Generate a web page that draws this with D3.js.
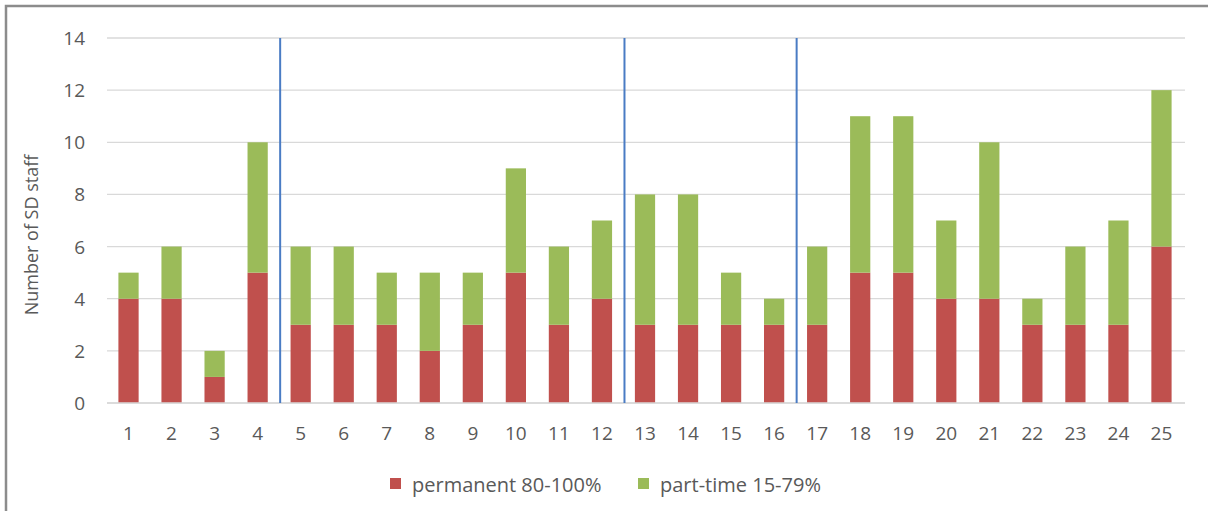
<!DOCTYPE html>
<html>
<head>
<meta charset="utf-8">
<script src="https://cdn.jsdelivr.net/npm/d3@7"></script>
<style>
  html, body { margin: 0; padding: 0; background: #fff; }
  svg { display: block; }
  text { font-family: "Open Sans", "Noto Sans", sans-serif; fill: #595959; }
</style>
</head>
<body>
<svg id="chart" width="1208" height="511"></svg>
<script>
// Staff counts per unit
const categories = ["1","2","3","4","5","6","7","8","9","10","11","12","13","14","15","16","17","18","19","20","21","22","23","24","25"];
const permanent = [4,4,1,5,3,3,3,2,3,5,3,4,3,3,3,3,3,5,5,4,4,3,3,3,6];
const partTime  = [1,2,1,5,3,3,2,3,2,4,3,3,5,5,2,1,3,6,6,3,6,1,3,4,6];
const seriesNames = ["permanent 80-100%", "part-time 15-79%"];
const yTicks = [0,2,4,6,8,10,12,14];
// group separators drawn after these units
const separators = ["4","12","16"];

const colors = ["#C0504D", "#9BBB59"];

const svg = d3.select("#chart");
const W = 1208, H = 511;

// outer frame
svg.append("rect")
  .attr("x", 6).attr("y", 6).attr("width", W + 10).attr("height", H + 10)
  .attr("fill", "none").attr("stroke", "#8c8c8c").attr("stroke-width", 2.5);

const plotLeft = 107, plotRight = 1183, plotTop = 38, plotBottom = 403;

const x = d3.scaleBand().domain(categories).range([plotLeft, plotRight])
  .paddingInner(0.53).paddingOuter(0.265);
const y = d3.scaleLinear().domain([0, 14]).range([plotBottom, plotTop]);

// horizontal gridlines
svg.append("g").selectAll("line").data(yTicks).join("line")
  .attr("x1", plotLeft).attr("x2", 1185)
  .attr("y1", d => y(d)).attr("y2", d => y(d))
  .attr("stroke", "#d9d9d9").attr("stroke-width", 1.3);

// y tick labels
svg.append("g").selectAll("text").data(yTicks).join("text")
  .attr("x", 85).attr("y", d => y(d))
  .attr("text-anchor", "end").attr("dominant-baseline", "central")
  .style("font-size", "19px")
  .text(d => d);

// y axis title
svg.append("text")
  .attr("transform", `translate(31,235) rotate(-90)`)
  .attr("text-anchor", "middle").attr("dominant-baseline", "central")
  .style("font-size", "18px")
  .text("Number of SD staff");

// stacked bars
const rows = categories.map((c, i) => ({ cat: c, p: permanent[i], t: partTime[i] }));
const stack = d3.stack().keys(["p", "t"])(rows);

svg.append("g").selectAll("g").data(stack).join("g")
  .attr("fill", (d, i) => colors[i])
  .selectAll("rect").data(d => d).join("rect")
  .attr("x", d => x(d.data.cat))
  .attr("width", x.bandwidth())
  .attr("y", d => y(d[1]))
  .attr("height", d => y(d[0]) - y(d[1]));

// zero baseline drawn over bar bottoms
svg.append("line")
  .attr("x1", plotLeft).attr("x2", 1185)
  .attr("y1", y(0)).attr("y2", y(0))
  .attr("stroke", "#d9d9d9").attr("stroke-width", 1.3);

// x tick labels
svg.append("g").selectAll("text").data(categories).join("text")
  .attr("x", d => x(d) + x.bandwidth() / 2).attr("y", 433)
  .attr("text-anchor", "middle").attr("dominant-baseline", "central")
  .style("font-size", "19px")
  .text(d => d);

// vertical group separators
const sepX = d => x(d) + x.bandwidth() + x.step() * x.paddingInner() / 2 + 1;
svg.append("g").selectAll("line").data(separators).join("line")
  .attr("x1", sepX).attr("x2", sepX)
  .attr("y1", y(14)).attr("y2", y(0))
  .attr("stroke", "#4a7cc4").attr("stroke-width", 2);

// legend
const legend = svg.append("g");
const legendX = [390, 638];
seriesNames.forEach((name, i) => {
  legend.append("rect")
    .attr("x", legendX[i]).attr("y", 478).attr("width", 11).attr("height", 11)
    .attr("fill", colors[i]);
  legend.append("text")
    .attr("x", legendX[i] + 22).attr("y", 484)
    .attr("dominant-baseline", "central")
    .style("font-size", "20px")
    .text(name);
});
</script>
</body>
</html>
